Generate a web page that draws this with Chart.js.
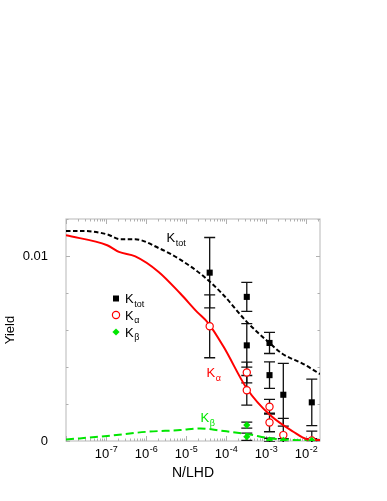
<!DOCTYPE html>
<html><head><meta charset="utf-8">
<script src="https://cdn.jsdelivr.net/npm/chart.js@4.4.1/dist/chart.umd.min.js"></script>
<style>html,body{margin:0;padding:0;background:#fff;}#wrap{width:387px;height:501px;}</style>
</head><body><div id="wrap"><canvas id="c" width="387" height="501"></canvas></div>
<script>
// ---- axis ranges / ticks ----
const xMin = 1e-8, xMax = 0.0223;
const yMin = 0, yMax = 0.012;
const yTickValues = [0, 0.002, 0.004, 0.006, 0.008, 0.01, 0.012];
const yTickLabels = ['0', '', '', '', '', '0.01', ''];
const xTickBase = '10';
const xTickExps = ['-7', '-6', '-5', '-4', '-3', '-2'];

// ---- model curves ----
const ktotModelX = [1.0e-8, 2.8e-8, 1.07e-7, 2.3e-7, 5.4e-7, 2.07e-6, 7.2e-6, 2.75e-5, 8.7e-5, 3.3e-4, 1.26e-3, 2.5e-3, 8.6e-3, 2.23e-2];
const ktotModelY = [0.01135, 0.01135, 0.01117, 0.0109, 0.0109, 0.01043, 0.0098, 0.0089, 0.00788, 0.00644, 0.00527, 0.00473, 0.00416, 0.00362];
const kalphaModelX = [1.0e-8, 1.07e-7, 2.1e-7, 5.4e-7, 2.07e-6, 7.2e-6, 1.88e-5, 3.66e-5, 8.7e-5, 3.3e-4, 1.26e-3, 4.8e-3, 1.05e-2, 2.23e-2];
const kalphaModelY = [0.01112, 0.01058, 0.01022, 0.00998, 0.00914, 0.00797, 0.00698, 0.00635, 0.00509, 0.00284, 0.0014, 0.0005, 0.0001, 0.00005];
const kbetaModelX = [1.0e-8, 1.07e-7, 1.07e-6, 7.2e-6, 2.3e-5, 7.2e-5, 3.3e-4, 1.26e-3, 4.8e-3, 2.23e-2];
const kbetaModelY = [0.00008, 0.00027, 0.0005, 0.00059, 0.00068, 0.00056, 0.00038, 0.00015, 0.00005, 0.00003];

// ---- measured points ----
const ktotX = [3.9e-5, 3.3e-4, 3.3e-4, 1.22e-3, 1.22e-3, 2.7e-3, 1.39e-2];
const ktotY = [0.0091, 0.00779, 0.00517, 0.0053, 0.00356, 0.0025, 0.00209];
const ktotErr = [0.0019, 0.00078, 0.00118, 0.00057, 0.00072, 0.0017, 0.00126];
const kalphaX = [3.9e-5, 3.3e-4, 3.3e-4, 1.22e-3, 1.22e-3, 2.7e-3, 1.39e-2];
const kalphaY = [0.0062, 0.0037, 0.00274, 0.00185, 0.001, 0.00032, 0.00003];
const kalphaErr = [0.0017, 0.00056, 0.0008, 0.0004, 0.0005, 0.0009, 0.0005];
const kbetaX = [3.3e-4, 3.3e-4, 1.22e-3, 2.7e-3, 1.39e-2];
const kbetaY = [0.00086, 0.00023, 0.00005, 0.00003, 0.00003];
const kbetaErr = [0.00016, 0.0002, 0.0001, 0.0001, 0.0001];

const GREEN = '#00e600', RED = '#ff0000', BLACK = '#000000';
const FONT = "'Liberation Sans', Arial, Helvetica, sans-serif";
const pts = (xs, ys) => xs.map((v, i) => ({x: v, y: ys[i]}));

function drawSubText(ctx, x, y, main, sub, color, size, subSize, subDrop) {
  ctx.save();
  ctx.fillStyle = color;
  ctx.textAlign = 'left';
  ctx.textBaseline = 'alphabetic';
  ctx.font = size + 'px ' + FONT;
  ctx.fillText(main, x, y);
  const w = ctx.measureText(main).width;
  ctx.font = subSize + 'px ' + FONT;
  ctx.fillText(sub, x + w + 0.5, y + subDrop);
  ctx.restore();
}

const decor = {
  id: 'decor',
  beforeDatasetsDraw(chart) {
    const {ctx, chartArea: a, scales: {x, y}} = chart;
    ctx.save();
    // frame
    ctx.strokeStyle = '#c4c4c4';
    ctx.lineWidth = 1.2;
    ctx.strokeRect(a.left, a.top, a.right - a.left, a.bottom - a.top);
    // x ticks (inward, bottom and top)
    ctx.strokeStyle = '#b0b0b0';
    ctx.lineWidth = 1;
    for (let e = -8; e <= -2; e++) {
      for (let m = 1; m <= 9; m++) {
        const v = m * Math.pow(10, e);
        if (v < xMin * 0.999 || v > xMax) continue;
        const px = Math.round(x.getPixelForValue(v)) + 0.5;
        const len = m === 1 ? 5 : 2.5;
        ctx.beginPath();
        ctx.moveTo(px, a.bottom); ctx.lineTo(px, a.bottom - len);
        ctx.moveTo(px, a.top); ctx.lineTo(px, a.top + len);
        ctx.stroke();
      }
    }
    // y ticks (inward, left and right)
    yTickValues.forEach((v, i) => {
      const py = Math.round(y.getPixelForValue(v)) + 0.5;
      const len = yTickLabels[i] ? 4 : 2.5;
      ctx.beginPath();
      ctx.moveTo(a.left, py); ctx.lineTo(a.left + len, py);
      ctx.moveTo(a.right, py); ctx.lineTo(a.right - len, py);
      ctx.stroke();
    });
    ctx.restore();

    // error bars
    ctx.save();
    ctx.beginPath();
    ctx.rect(a.left, a.top, a.right - a.left, a.bottom - a.top + 1);
    ctx.clip();
    chart.data.datasets.forEach((ds, i) => {
      if (!ds.yErr) return;
      const meta = chart.getDatasetMeta(i);
      ctx.strokeStyle = '#111';
      ctx.lineWidth = 1.3;
      ds.data.forEach((d, j) => {
        const px = meta.data[j].x;
        const e = ds.yErr[j];
        const yTop = y.getPixelForValue(d.y + e);
        const yBot = y.getPixelForValue(d.y - e);
        ctx.beginPath();
        ctx.moveTo(px, yTop); ctx.lineTo(px, yBot);
        ctx.moveTo(px - 5.5, yTop); ctx.lineTo(px + 5.5, yTop);
        ctx.moveTo(px - 5.5, yBot); ctx.lineTo(px + 5.5, yBot);
        ctx.stroke();
      });
    });
    ctx.restore();
  },
  afterDraw(chart) {
    const {ctx, scales: {x}} = chart;
    // x tick labels with superscript exponents
    ctx.save();
    ctx.fillStyle = '#000';
    ctx.textBaseline = 'alphabetic';
    ctx.textAlign = 'left';
    xTickExps.forEach(ex => {
      const px = x.getPixelForValue(Math.pow(10, Number(ex)));
      ctx.font = '13px ' + FONT;
      const w1 = ctx.measureText(xTickBase).width;
      ctx.font = '9px ' + FONT;
      const w2 = ctx.measureText(ex).width;
      const start = px - (w1 + w2) / 2;
      ctx.font = '13px ' + FONT;
      ctx.fillText(xTickBase, start, 457.5);
      ctx.font = '9px ' + FONT;
      ctx.fillText(ex, start + w1 + 0.5, 451.5);
    });
    ctx.restore();

    // legend
    const lx = 116;
    const rows = [298.5, 315, 332];
    ctx.save();
    ctx.fillStyle = BLACK;
    ctx.fillRect(lx - 3, rows[0] - 3, 6, 6);
    ctx.beginPath();
    ctx.arc(lx, rows[1], 3.6, 0, Math.PI * 2);
    ctx.fillStyle = '#fff'; ctx.fill();
    ctx.strokeStyle = RED; ctx.lineWidth = 1.2; ctx.stroke();
    ctx.beginPath();
    ctx.moveTo(lx, rows[2] - 3.6); ctx.lineTo(lx + 3.6, rows[2]);
    ctx.lineTo(lx, rows[2] + 3.6); ctx.lineTo(lx - 3.6, rows[2]); ctx.closePath();
    ctx.fillStyle = GREEN; ctx.fill();
    ctx.restore();
    drawSubText(ctx, 125, rows[0] + 4.8, 'K', 'tot', BLACK, 13, 9, 3.5);
    drawSubText(ctx, 125, rows[1] + 4.8, 'K', 'α', BLACK, 13, 9, 3.5);
    drawSubText(ctx, 125, rows[2] + 4.8, 'K', 'β', BLACK, 13, 9, 3.5);

    // curve annotations
    drawSubText(ctx, 166.5, 241.7, 'K', 'tot', BLACK, 13, 9, 4);
    drawSubText(ctx, 206.5, 377.3, 'K', 'α', RED, 13, 9, 3.5);
    drawSubText(ctx, 200.5, 422.3, 'K', 'β', GREEN, 13, 9, 3.5);
  }
};

new Chart(document.getElementById('c'), {
  data: {
    datasets: [
      {type: 'scatter', label: 'Kβ', data: pts(kbetaX, kbetaY), yErr: kbetaErr,
       pointStyle: 'rectRot', pointRadius: 3.6, backgroundColor: GREEN, borderColor: GREEN, borderWidth: 0},
      {type: 'scatter', label: 'Ktot', data: pts(ktotX, ktotY), yErr: ktotErr,
       pointStyle: 'rect', pointRadius: 4.3, backgroundColor: BLACK, borderColor: BLACK, borderWidth: 0},
      {type: 'scatter', label: 'Kα', data: pts(kalphaX, kalphaY), yErr: kalphaErr,
       pointStyle: 'circle', pointRadius: 3.6, backgroundColor: '#fff', borderColor: RED, borderWidth: 1.2},
      {type: 'line', label: 'Ktot model', data: pts(ktotModelX, ktotModelY), borderColor: BLACK,
       borderWidth: 2, borderDash: [4.5, 2.5], pointRadius: 0, fill: false, cubicInterpolationMode: 'monotone'},
      {type: 'line', label: 'Kα model', data: pts(kalphaModelX, kalphaModelY), borderColor: RED,
       borderWidth: 2, pointRadius: 0, fill: false, cubicInterpolationMode: 'monotone'},
      {type: 'line', label: 'Kβ model', data: pts(kbetaModelX, kbetaModelY), borderColor: GREEN,
       borderWidth: 2, borderDash: [8, 4], pointRadius: 0, fill: false, cubicInterpolationMode: 'monotone'}
    ]
  },
  options: {
    responsive: false,
    animation: false,
    devicePixelRatio: 1,
    layout: {padding: {left: 0, top: 219, right: 67, bottom: 0}},
    plugins: {legend: {display: false}, tooltip: {enabled: false}},
    scales: {
      x: {
        type: 'logarithmic', position: 'bottom', min: xMin, max: xMax,
        grid: {display: false}, border: {display: false},
        ticks: {display: false},
        title: {display: true, text: 'N/LHD', color: '#000',
                font: {family: FONT, size: 14}, padding: {top: 0, bottom: 19}},
        afterFit: s => { s.height = 60; }
      },
      y: {
        type: 'linear', position: 'left', min: yMin, max: yMax,
        grid: {display: false}, border: {display: false},
        afterBuildTicks: s => { s.ticks = yTickValues.map(v => ({value: v})); },
        ticks: {color: '#000', font: {family: FONT, size: 13}, padding: 10,
                callback: (v, i) => yTickLabels[i]},
        title: {display: true, text: 'Yield', color: '#000',
                font: {family: FONT, size: 13}, padding: {top: 3, bottom: 0}},
        afterFit: s => { s.width = 66; }
      }
    }
  },
  plugins: [decor]
});
</script>
</body></html>
